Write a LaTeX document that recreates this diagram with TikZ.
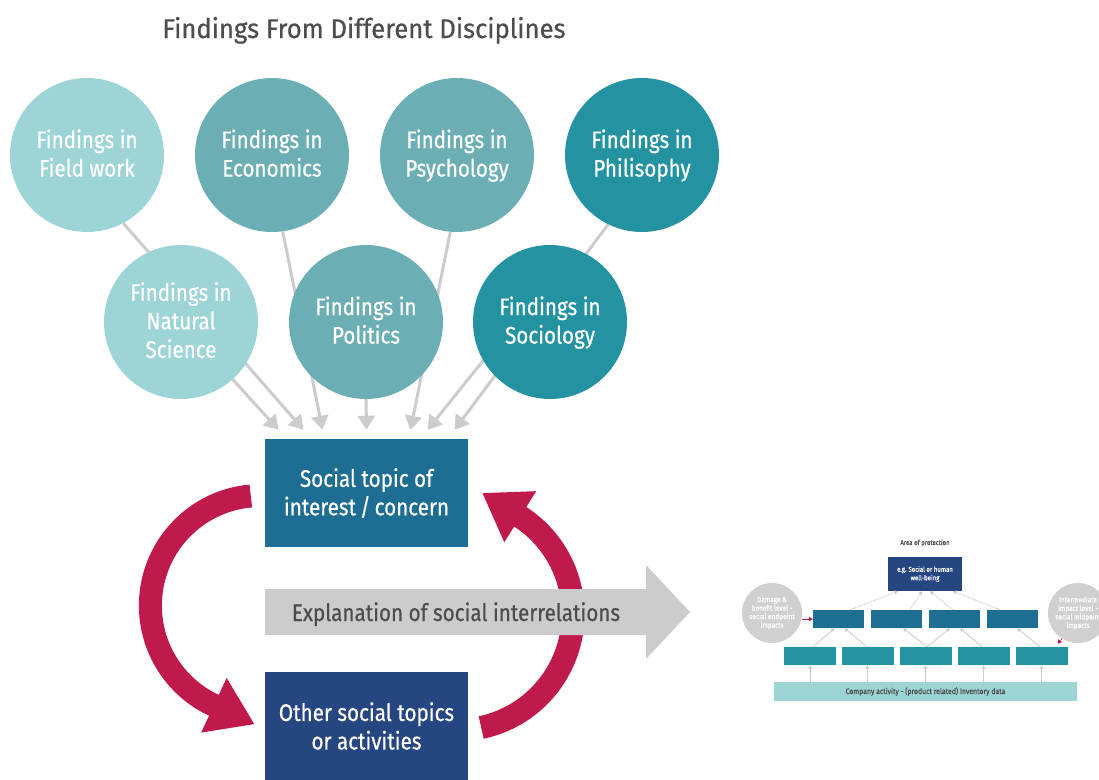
\documentclass[tikz,border=0pt]{standalone}
\usepackage{fontspec}
\setmainfont{Fira Sans}[FakeStretch=0.86, FakeBold=0.6]
\newfontfamily\titlefont{Fira Sans}[FakeStretch=0.95, FakeBold=0.6]
\usetikzlibrary{arrows.meta,backgrounds,positioning}

\definecolor{paleteal}{HTML}{9DD4D6}
\definecolor{midteal}{HTML}{6BAFB4}
\definecolor{deepteal}{HTML}{2393A2}
\definecolor{topicblue}{HTML}{1D6E92}
\definecolor{otherblue}{HTML}{264682}
\definecolor{loopred}{HTML}{C0194B}
\definecolor{linegray}{HTML}{CCCCCC}
\definecolor{labelgray}{HTML}{4D4D4D}
\definecolor{bubblegray}{HTML}{D0D0D0}

\tikzset{
  finding/.style={circle, fill=#1, text=white, minimum size=154pt, inner sep=0pt,
    align=center, text depth=4pt, font=\fontsize{24}{28.5}\selectfont},
  topic/.style={rectangle, fill=#1, text=white, minimum width=203pt, minimum height=108pt,
    align=center, font=\fontsize{24}{28.5}\selectfont},
  findarrow/.style={draw=linegray, line width=3pt, -{Triangle[length=14pt,width=17pt]}},
  cyclearrow/.style={draw=loopred, line width=23pt, -{Triangle[length=45pt,width=57pt]}},
  levelbox/.style={rectangle, fill=#1, minimum width=51pt, minimum height=18pt, inner sep=0pt},
  bubble/.style={circle, fill=bubblegray, text=white, minimum size=60pt, inner sep=0pt,
    align=center, font=\fontsize{7.5}{8.5}\selectfont},
  minorarrow/.style={draw=linegray, line width=0.9pt, -{Triangle[length=3.5pt,width=4pt]}},
  dotarrow/.style={minorarrow, dash pattern=on 1.5pt off 1pt},
}

\begin{document}
\begin{tikzpicture}[x=1pt, y=-1pt]
  \useasboundingbox (0,0) rectangle (1099,779);

  \node[font=\titlefont\fontsize{27}{32}\selectfont, text=labelgray, anchor=base] (title) at (364,38)
    {Findings From Different Disciplines};

  % the findings
  \node[finding=paleteal] (fw) at (87,155) {Findings in\\Field work};
  \node[finding=midteal] (econ) at (272,155) {Findings in\\Economics};
  \node[finding=midteal] (psy) at (457,155) {Findings in\\Psychology};
  \node[finding=deepteal] (phil) at (642,155) {Findings in\\Philisophy};
  \node[finding=paleteal] (ns) at (181,322) {Findings in\\Natural\\Science};
  \node[finding=midteal] (pol) at (366,322) {Findings in\\Politics};
  \node[finding=deepteal] (soc) at (550,322) {Findings in\\Sociology};

  \node[topic=topicblue] (top) at (366.5,493) {Social topic of\\interest\,/\,concern};
  \node[topic=otherblue] (other) at (366.5,726) {Other social topics\\or activities};

  % Draw the findings arrows behind the circles
  \begin{scope}[on background layer]
    \foreach \src/\dx in {ns.-48/-88, fw.-62/-63, econ.-82/-44, pol.south/0,
                          psy.-95/44, soc.-150/61, phil.-116/88}
      \draw[findarrow] (\src) -- ([xshift=\dx pt, yshift=9pt]top.north);
  \end{scope}

  % the loop between the two topics
  \draw[cyclearrow] ([xshift=-14pt, yshift=-3pt]top.west)
    arc[start angle=265, end angle=115, radius=110] -- ++(25:45);
  \draw[cyclearrow] ([xshift=13pt, yshift=-1.5pt]other.east)
    arc[start angle=78, end angle=-58, radius=116] -- ++(212:43);

  % explanation arrow
  \fill[linegray] (265,589) -- (646,589) -- (646,565) -- (690,612) -- (646,659)
    -- (646,635) -- (265,635) -- cycle;
  \node[font=\fontsize{24}{28}\selectfont, text=labelgray, anchor=base] (explain) at (456,621)
    {Explanation of social interrelations};

  % small impact scheme
  \node[font=\fontsize{7}{8}\selectfont, text=labelgray] (aop) at (925,543) {Area of protection};
  \node[levelbox=otherblue, minimum width=74pt, minimum height=34pt, text=white, align=center,
    font=\fontsize{7}{8.5}\selectfont] (well) at (925,574) {e.g. Social or human\\well-being};
  \foreach \x [count=\i] in {838.5,896.5,954.5,1012}
    \node[levelbox=topicblue] (e\i) at (\x,619) {};
  \foreach \x [count=\i] in {810,867.5,925.5,983.5,1041.5}
    \node[levelbox=deepteal, minimum width=52pt] (m\i) at (\x,656) {};
  \node[levelbox=paleteal, minimum width=303pt, minimum height=19pt, text=labelgray,
    font=\fontsize{8}{9}\selectfont] (inv) at (925.5,691.5)
    {Company activity - (product related) Inventory data};
  \node[bubble] (dmg) at (772,613) {Damage \&\\benefit level -\\social endpoint\\impacts};
  \node[bubble] (mid) at (1078,613) {Intermediate\\impact level -\\social midpoint\\impacts};

  \foreach \i in {1,...,5}
    \draw[minorarrow] (inv.north -| m\i) -- (m\i.south);
  \draw[minorarrow] ([xshift=3pt]m1.north) -- ([xshift=-4pt]e1.south);
  \draw[minorarrow] ([xshift=-0.5pt]m2.north) -- ([xshift=6pt]e1.south);
  \draw[minorarrow] ([xshift=1.5pt]m3.north) -- ([xshift=6.5pt]e2.south);
  \draw[minorarrow] ([xshift=1.5pt]m3.north) -- ([xshift=-4.5pt]e3.south);
  \draw[minorarrow] ([xshift=-1.5pt]m4.north) -- ([xshift=5.5pt]e3.south);
  \draw[minorarrow] ([xshift=-1.5pt]m5.north) -- ([xshift=5pt]e4.south);
  \draw[dotarrow] ([xshift=11.5pt]e1.north) -- ([xshift=-27pt]well.south);
  \draw[dotarrow] ([xshift=13.5pt]e2.north) -- ([xshift=-3pt]well.south);
  \draw[dotarrow] ([xshift=-1.5pt]e3.north) -- ([xshift=5pt]well.south);
  \draw[dotarrow] ([xshift=-12pt]e4.north) -- ([xshift=28pt]well.south);
  \draw[draw=loopred, line width=1pt, -{Triangle[length=4pt,width=4.5pt]}]
    ([yshift=-6pt]dmg.east) -- (e1.west);
  \draw[draw=loopred, line width=1pt, dash pattern=on 1.5pt off 1pt,
    -{Triangle[length=4pt,width=4.5pt]}] (mid.-122) -- ([xshift=-10pt, yshift=3pt]m5.north east);
\end{tikzpicture}
\end{document}
